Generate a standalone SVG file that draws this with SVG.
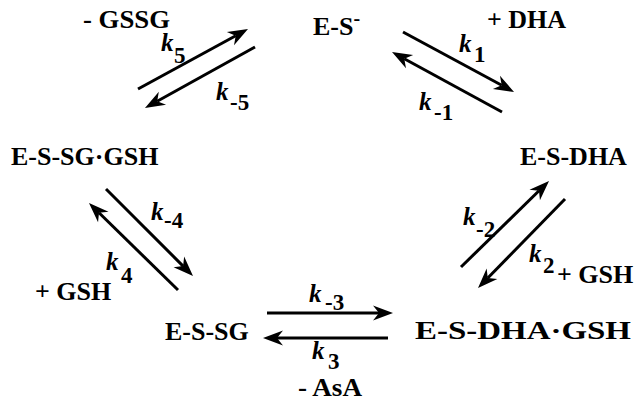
<svg xmlns="http://www.w3.org/2000/svg" width="637" height="402" viewBox="0 0 637 402">
<defs>
<style>
text{font-family:'Liberation Serif','Times New Roman',Times,serif;font-weight:bold;fill:#000}
.t{font-size:26px}
.k{font-style:italic;font-size:25px}
.s{font-size:23px}
.a{stroke:#000;stroke-width:3;fill:none;marker-end:url(#ah)}
</style>
<marker id="ah" markerUnits="userSpaceOnUse" markerWidth="30" markerHeight="30" viewBox="-10 -10 30 20" refX="0" refY="0" orient="auto">
<path d="M14,0 L-6,-7.5 L0,0 L-6,7.5 Z" fill="#000"/>
</marker>
</defs>
<rect width="637" height="402" fill="#fff"/>
<g id="connectors">
<line class="a" x1="138" y1="89" x2="235.7" y2="35.7"/>
<line class="a" x1="255" y1="47" x2="157.2" y2="101.2"/>
<line class="a" x1="403" y1="32" x2="501.7" y2="85.3"/>
<line class="a" x1="502" y1="112" x2="404.3" y2="58.7"/>
<line class="a" x1="461" y1="267" x2="539" y2="190.8"/>
<line class="a" x1="565" y1="199" x2="487.8" y2="278"/>
<line class="a" x1="106" y1="189" x2="183.1" y2="266.1"/>
<line class="a" x1="178" y1="290" x2="99" y2="212.8"/>
<line class="a" x1="267" y1="313" x2="379" y2="313"/>
<line class="a" x1="388" y1="338" x2="277" y2="338"/>
</g>
<g id="n-ES"><text class="t" x="313" y="35">E-S<tspan font-size="20" dy="-10">-</tspan></text></g>
<g id="n-ESDHA"><text class="t" x="520" y="165">E-S-DHA</text></g>
<g id="n-ESDHAGSH"><text class="t" x="415" y="339" textLength="216" lengthAdjust="spacingAndGlyphs">E-S-DHA·GSH</text></g>
<g id="n-ESSG"><text class="t" x="165" y="340">E-S-SG</text></g>
<g id="n-ESSGGSH"><text class="t" x="11" y="165">E-S-SG·GSH</text></g>
<g id="labels">
<text class="t" x="83" y="28" textLength="87" lengthAdjust="spacingAndGlyphs">- GSSG</text>
<text class="t" x="487" y="28">+ DHA</text>
<text class="t" x="35" y="300">+ GSH</text>
<text class="t" x="557" y="283">+ GSH</text>
<text class="t" x="298" y="396" font-size="25" textLength="64" lengthAdjust="spacingAndGlyphs">- AsA</text>
<text class="k" x="161" y="51">k</text><text class="s" x="174" y="63">5</text>
<text class="k" x="216" y="100">k</text><text class="s" x="230" y="110">-5</text>
<text class="k" x="459" y="52">k</text><text class="s" x="474" y="62">1</text>
<text class="k" x="419" y="110">k</text><text class="s" x="434" y="120">-1</text>
<text class="k" x="151" y="220">k</text><text class="s" x="164" y="228">-4</text>
<text class="k" x="106" y="270">k</text><text class="s" x="121" y="283">4</text>
<text class="k" x="463" y="225">k</text><text class="s" x="476" y="237">-2</text>
<text class="k" x="529" y="262">k</text><text class="s" x="543" y="273">2</text>
<text class="k" x="309" y="302">k</text><text class="s" x="325" y="310">-3</text>
<text class="k" x="312" y="359">k</text><text class="s" x="328" y="368.5">3</text>
</g>
</svg>
